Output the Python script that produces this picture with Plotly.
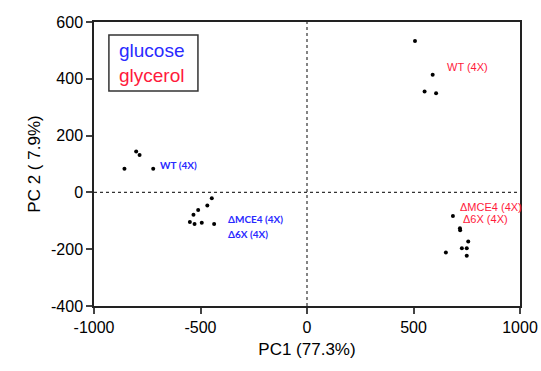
import plotly.graph_objects as go

glc_wt_x = [-802, -786, -857, -722]
glc_wt_y = [144, 132, 83, 83]
glc_mut_x = [-447, -468, -511, -533, -550, -528, -494, -436]
glc_mut_y = [-21, -46, -62, -79, -104, -111, -107, -111]
gly_wt_x = [507, 590, 552, 606]
gly_wt_y = [533, 414, 355, 349]
gly_mut_x = [685, 718, 719, 757, 652, 727, 750, 750]
gly_mut_y = [-83, -126, -133, -173, -212, -197, -197, -223]

x_ticks = [-1000, -500, 0, 500, 1000]
x_ticktext = ["-1000", "-500", "0", "500", "1000"]
y_ticks = [-400, -200, 0, 200, 400, 600]
y_ticktext = ["-400", "-200", "0", "200", "400", "600"]

BLUE = "#2a2aff"
RED = "#ff1a3c"

fig = go.Figure()
for xs, ys in [(glc_wt_x, glc_wt_y), (glc_mut_x, glc_mut_y), (gly_wt_x, gly_wt_y), (gly_mut_x, gly_mut_y)]:
    fig.add_trace(go.Scatter(x=xs, y=ys, mode="markers",
                             marker=dict(color="black", size=4), showlegend=False))

annos = [
    dict(x=-700, y=95, text="WT (4X)", color=BLUE, fam="Lato", size=10, bold=True),
    dict(x=-380, y=-95, text="ΔMCE4 (4X)", color=BLUE, fam="Lato", size=10, bold=True),
    dict(x=-380, y=-145, text="Δ6X (4X)", color=BLUE, fam="Lato", size=10, bold=True),
    dict(x=648, y=442, text="WT (4X)", color=RED, fam="Liberation Sans", size=11, bold=False),
    dict(x=710, y=-52, text="ΔMCE4 (4X)", color=RED, fam="Liberation Sans", size=11, bold=False),
    dict(x=724, y=-93, text="Δ6X (4X)", color=RED, fam="Liberation Sans", size=11, bold=False),
]
for a in annos:
    fig.add_annotation(x=a["x"], y=a["y"], text=a["text"], showarrow=False,
                       xanchor="left", yanchor="middle",
                       font=dict(family=a["fam"], size=a["size"], color=a["color"],
                                 weight="bold" if a["bold"] else "normal"))

# legend box
fig.add_shape(type="rect", xref="paper", yref="paper", x0=0.035, x1=0.244, y0=0.757, y1=0.954,
              line=dict(color="#333", width=1.5), fillcolor="white", layer="above")
fig.add_annotation(xref="paper", yref="paper", x=0.054, y=0.898, xanchor="left", yanchor="middle",
                   text="glucose", showarrow=False,
                   font=dict(family="Liberation Sans", size=19, color=BLUE))
fig.add_annotation(xref="paper", yref="paper", x=0.054, y=0.812, xanchor="left", yanchor="middle",
                   text="glycerol", showarrow=False,
                   font=dict(family="Liberation Sans", size=19, color=RED))

# dotted zero lines
fig.add_shape(type="line", x0=0, x1=0, y0=-400, y1=600, line=dict(color="#333", width=1.2, dash="dot"))
fig.add_shape(type="line", x0=-1000, x1=1000, y0=0, y1=0, line=dict(color="#333", width=1.2, dash="dot"))

fig.update_layout(
    width=541, height=371,
    margin=dict(l=94, r=21, t=22, b=65),
    plot_bgcolor="white", paper_bgcolor="white",
    font=dict(family="Liberation Sans", size=16, color="black"),
)
fig.update_xaxes(range=[-1000, 1000], tickvals=x_ticks, ticktext=x_ticktext, ticks="outside", ticklen=6, tickwidth=1.5,
                 showline=True, linecolor="#222", linewidth=1.5, mirror=True, showgrid=False, zeroline=False,
                 automargin=False,
                 title=dict(text="PC1 (77.3%)", font=dict(size=17), standoff=8))
fig.update_yaxes(range=[-400, 600], tickvals=y_ticks, ticktext=y_ticktext, ticks="outside", ticklen=6, tickwidth=1.5,
                 showline=True, linecolor="#222", linewidth=1.5, mirror=True, showgrid=False, zeroline=False,
                 automargin=False,
                 title=dict(text="PC 2 ( 7.9%)", font=dict(size=17), standoff=6))

fig.write_html("out.html", config={"displayModeBar": False},
               post_script="document.body.style.margin='0';")
